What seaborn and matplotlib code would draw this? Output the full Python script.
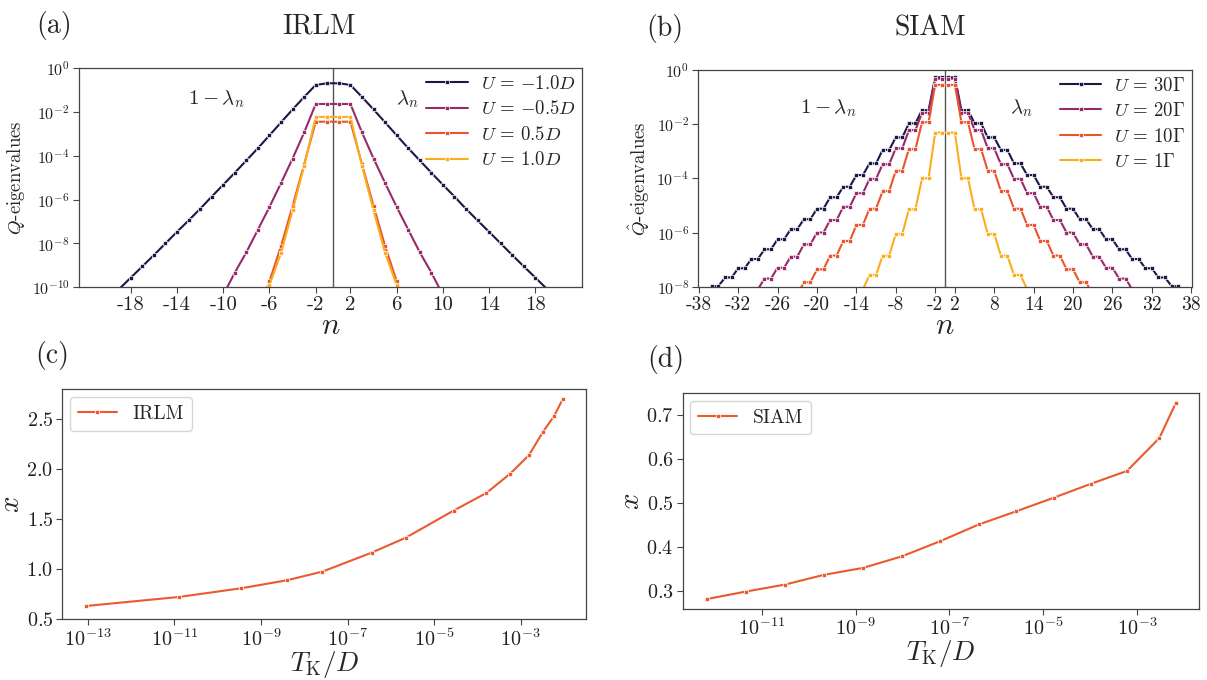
import numpy as np
import pandas as pd
import seaborn as sns
import matplotlib.pyplot as plt
from matplotlib.ticker import NullLocator

sns.set_style("ticks")
plt.rcParams['font.family'] = ['cmr10', 'DejaVu Serif']
plt.rcParams['mathtext.fontset'] = 'cm'
plt.rcParams['axes.formatter.use_mathtext'] = True
plt.rcParams['axes.edgecolor'] = '#444444'
plt.rcParams['axes.linewidth'] = 0.9
plt.rcParams['xtick.color'] = '#444444'
plt.rcParams['ytick.color'] = '#444444'
plt.rcParams['xtick.labelcolor'] = '#222222'
plt.rcParams['ytick.labelcolor'] = '#222222'
plt.rcParams['xtick.major.size'] = 4.5
plt.rcParams['ytick.major.size'] = 4.5

# ---- panel (a): IRLM Q-eigenvalues (log10), left side n<0 and right side n>0
irlm_labels = [r"$U\,=\,{-}1.0D$", r"$U\,=\,{-}0.5D$", r"$U\,=\,0.5D$", r"$U\,=\,1.0D$"]
irlm_n_left = [list(range(-19, 0)), list(range(-10, 0)), list(range(-7, 0)), list(range(-7, 0))]
irlm_n_right = [list(range(1, 20)), list(range(1, 11)), list(range(1, 8)), list(range(1, 8))]
irlm_m10_left = [-10.08, -9.56, -9.05, -8.53, -8.0, -7.47, -6.95, -6.42, -5.86, -5.32,
                 -4.77, -4.21, -3.65, -3.06, -2.47, -1.88, -1.31, -0.76, -0.685]
irlm_m10_right = [-0.685, -0.76, -1.31, -1.88, -2.47, -3.06, -3.65, -4.21, -4.77, -5.32,
                  -5.86, -6.42, -6.95, -7.47, -8.0, -8.53, -9.05, -9.56, -10.08]
irlm_m05_left = [-10.35, -9.33, -8.40, -7.37, -6.33, -5.24, -4.12, -2.93, -1.63, -1.63]
irlm_m05_right = [-1.63, -1.63, -2.93, -4.12, -5.24, -6.33, -7.37, -8.40, -9.33, -10.35]
irlm_p05_left = [-11.2, -9.72, -8.12, -6.29, -4.38, -2.44, -2.44]
irlm_p05_right = [-2.44, -2.44, -4.38, -6.29, -8.12, -9.72, -11.2]
irlm_p10_left = [-11.4, -9.9, -8.43, -6.49, -4.45, -2.22, -2.22]
irlm_p10_right = [-2.22, -2.22, -4.45, -6.49, -8.43, -9.9, -11.4]

# ---- panel (b): SIAM Q-hat eigenvalues (log10)
siam_labels = [r"$U\,=\,30\Gamma$", r"$U\,=\,20\Gamma$", r"$U\,=\,10\Gamma$", r"$U\,=\,1\Gamma$"]
siam_n_left = [list(range(-38, 0)), list(range(-30, 0)), list(range(-24, 0)), list(range(-14, 0))]
siam_n_right = [list(range(1, 39)), list(range(1, 31)), list(range(1, 25)), list(range(1, 15))]
siam_30_left = [-8.30, -8.30, -7.98, -7.98, -7.66, -7.66, -7.32, -7.32, -6.98, -6.98,
                -6.62, -6.62, -6.25, -6.25, -5.88, -5.88, -5.51, -5.51, -5.12, -5.12,
                -4.70, -4.70, -4.31, -4.31, -3.88, -3.88, -3.45, -3.45, -2.95, -2.95,
                -2.49, -2.49, -1.97, -1.97, -1.48, -1.48, -0.27, -0.27]
siam_30_right = [-0.27, -0.27, -1.48, -1.48, -1.97, -1.97, -2.49, -2.49, -2.95, -2.95,
                 -3.45, -3.45, -3.88, -3.88, -4.31, -4.31, -4.70, -4.70, -5.12, -5.12,
                 -5.51, -5.51, -5.88, -5.88, -6.25, -6.25, -6.62, -6.62, -6.98, -6.98,
                 -7.32, -7.32, -7.66, -7.66, -7.98, -7.98, -8.30, -8.30]
siam_20_left = [-8.10, -8.10, -7.70, -7.70, -7.30, -7.30, -6.89, -6.89, -6.44, -6.44,
                -6.00, -6.00, -5.54, -5.54, -5.05, -5.05, -4.55, -4.55, -4.02, -4.02,
                -3.48, -3.48, -2.89, -2.89, -2.22, -2.22, -1.58, -1.58, -0.32, -0.32]
siam_20_right = [-0.32, -0.32, -1.58, -1.58, -2.22, -2.22, -2.89, -2.89, -3.48, -3.48,
                 -4.02, -4.02, -4.55, -4.55, -5.05, -5.05, -5.54, -5.54, -6.00, -6.00,
                 -6.44, -6.44, -6.89, -6.89, -7.30, -7.30, -7.70, -7.70, -8.10, -8.10]
siam_10_left = [-8.30, -8.30, -7.84, -7.84, -7.36, -7.36, -6.85, -6.85, -6.31, -6.31,
                -5.72, -5.72, -5.12, -5.12, -4.47, -4.47, -3.72, -3.72, -2.92, -2.92,
                -1.93, -1.93, -0.55, -0.55]
siam_10_right = [-0.55, -0.55, -1.93, -1.93, -2.92, -2.92, -3.72, -3.72, -4.47, -4.47,
                 -5.12, -5.12, -5.72, -5.72, -6.31, -6.31, -6.85, -6.85, -7.36, -7.36,
                 -7.84, -7.84, -8.30, -8.30]
siam_01_left = [-8.10, -8.10, -7.57, -7.57, -6.85, -6.85, -6.05, -6.05, -5.14, -5.14,
                -4.00, -4.00, -2.31, -2.31]
siam_01_right = [-2.31, -2.31, -4.00, -4.00, -5.14, -5.14, -6.05, -6.05, -6.85, -6.85,
                 -7.57, -7.57, -8.10, -8.10]

# ---- panels (c), (d): x vs T_K/D
irlm_tk = [9.1e-14, 1.26e-11, 3.47e-10, 3.98e-9, 2.63e-8, 3.63e-7, 2.24e-6, 2.82e-5,
           1.62e-4, 5.75e-4, 1.55e-3, 3.31e-3, 5.89e-3, 9.33e-3]
irlm_x = [0.633, 0.723, 0.81, 0.89, 0.977, 1.167, 1.317, 1.587, 1.763, 1.957,
          2.14, 2.377, 2.53, 2.70]
siam_tk = [6.76e-13, 4.57e-12, 3.16e-11, 2.09e-10, 1.45e-9, 9.55e-9, 6.46e-8, 4.27e-7,
           2.69e-6, 1.70e-5, 1.07e-4, 6.17e-4, 3.02e-3, 6.76e-3]
siam_x = [0.281, 0.298, 0.314, 0.336, 0.352, 0.378, 0.413, 0.451, 0.481, 0.512,
          0.544, 0.573, 0.648, 0.728]

palette = ["#1c1747", "#972a6a", "#e9552f", "#fbae1d"]
line_c = "#ea5a2e"


def npos(n):
    # n=0 does not exist: -1 and 1 sit next to each other
    n = np.asarray(n)
    return np.where(n < 0, n + 1, n)


def eig_panel(ax, labels, n_left, n_right, left, right, xticks, ylim, yticks, ylabel, xtsize):
    for i, lab in enumerate(labels):
        n = list(n_left[i]) + list(n_right[i])
        vals = 10.0 ** np.array(list(left[i]) + list(right[i]))
        df = pd.DataFrame({"pos": npos(n), "val": vals})
        sns.lineplot(data=df, x="pos", y="val", ax=ax, color=palette[i], marker='s',
                     markersize=3.5, linewidth=1.5, markeredgewidth=0.5, label=lab)
    ax.axvline(0.5, color='#555555', lw=1.0, zorder=1)
    ax.set_yscale('log')
    ax.set_ylim(ylim)
    ax.set_yticks(yticks)
    ax.yaxis.set_minor_locator(NullLocator())
    ax.set_xticks(npos(xticks))
    ax.set_xticklabels([str(t) for t in xticks])
    ax.tick_params(axis='x', labelsize=xtsize, pad=2)
    ax.tick_params(axis='y', labelsize=11.5, pad=2)
    ax.set_xlabel(r"$n$", fontsize=22, labelpad=-1)
    ax.set_ylabel(ylabel, fontsize=13.5, labelpad=3)
    ax.legend(loc='upper right', bbox_to_anchor=(1, 1), frameon=False, fontsize=13.5,
              handlelength=2.2, handletextpad=0.7, labelspacing=0.4,
              borderaxespad=0.0, borderpad=0.35)


fig = plt.figure(figsize=(12.07, 6.80), dpi=100)
ax_a = fig.add_axes([0.0652, 0.5775, 0.4172, 0.3221])
ax_b = fig.add_axes([0.5784, 0.5784, 0.4091, 0.3187])
ax_c = fig.add_axes([0.0517, 0.0893, 0.4341, 0.3382])
ax_d = fig.add_axes([0.5655, 0.1049, 0.4277, 0.3168])

eig_panel(ax_a, irlm_labels, irlm_n_left, irlm_n_right,
          [irlm_m10_left, irlm_m05_left, irlm_p05_left, irlm_p10_left],
          [irlm_m10_right, irlm_m05_right, irlm_p05_right, irlm_p10_right],
          [-18, -14, -10, -6, -2, 2, 6, 10, 14, 18], (1e-10, 1),
          [1e-10, 1e-8, 1e-6, 1e-4, 1e-2, 1e0], r"$Q$-eigenvalues", 15)
ax_a.set_xlim(-21.5, 22.05)
ax_a.text(0.273, 0.86, r"$1-\lambda_n$", transform=ax_a.transAxes, ha='center',
          va='center', fontsize=15)
ax_a.text(0.652, 0.86, r"$\lambda_n$", transform=ax_a.transAxes, ha='center',
          va='center', fontsize=15)

eig_panel(ax_b, siam_labels, siam_n_left, siam_n_right,
          [siam_30_left, siam_20_left, siam_10_left, siam_01_left],
          [siam_30_right, siam_20_right, siam_10_right, siam_01_right],
          [-38, -32, -26, -20, -14, -8, -2, 2, 8, 14, 20, 26, 32, 38], (1e-8, 1),
          [1e-8, 1e-6, 1e-4, 1e-2, 1e0], r"$\hat{Q}$-eigenvalues", 14)
ax_b.set_xlim(-37.1, 38.1)
ax_b.text(0.263, 0.825, r"$1-\lambda_n$", transform=ax_b.transAxes, ha='center',
          va='center', fontsize=15)
ax_b.text(0.654, 0.825, r"$\lambda_n$", transform=ax_b.transAxes, ha='center',
          va='center', fontsize=15)

for ax, tk, xv, lab, xlim, ylim, xt in [
        (ax_c, irlm_tk, irlm_x, "IRLM", (2.57e-14, 3.3e-2), (0.5, 2.8),
         [1e-13, 1e-11, 1e-9, 1e-7, 1e-5, 1e-3]),
        (ax_d, siam_tk, siam_x, "SIAM", (2.04e-13, 2.09e-2), (0.259, 0.750),
         [1e-11, 1e-9, 1e-7, 1e-5, 1e-3])]:
    sns.lineplot(x=tk, y=xv, ax=ax, color=line_c, marker='s', markersize=3.5,
                 linewidth=1.5, markeredgewidth=0.5, label=lab)
    ax.set_xscale('log')
    ax.set_xlim(xlim)
    ax.set_ylim(ylim)
    ax.set_xticks(xt)
    ax.xaxis.set_minor_locator(NullLocator())
    ax.tick_params(labelsize=14.5, pad=2)
    ax.set_xlabel(r"$T_{\rm K}/D$", fontsize=19.5, labelpad=-1)
    ax.set_ylabel(r"$x$", fontsize=21, labelpad=1)
    ax.legend(loc='upper left', fontsize=14, handlelength=2.0, borderaxespad=0.4)

ax_d.set_yticks([0.3, 0.4, 0.5, 0.6, 0.7])

fig.text(0.0445, 0.962, "(a)", fontsize=20, ha='center', va='center')
fig.text(0.264, 0.962, "IRLM", fontsize=20, ha='center', va='center')
fig.text(0.551, 0.958, "(b)", fontsize=20, ha='center', va='center')
fig.text(0.7705, 0.958, "SIAM", fontsize=20, ha='center', va='center')
fig.text(0.0437, 0.477, "(c)", fontsize=20, ha='center', va='center')
fig.text(0.552, 0.471, "(d)", fontsize=20, ha='center', va='center')

fig.savefig("out.png", dpi=100)
